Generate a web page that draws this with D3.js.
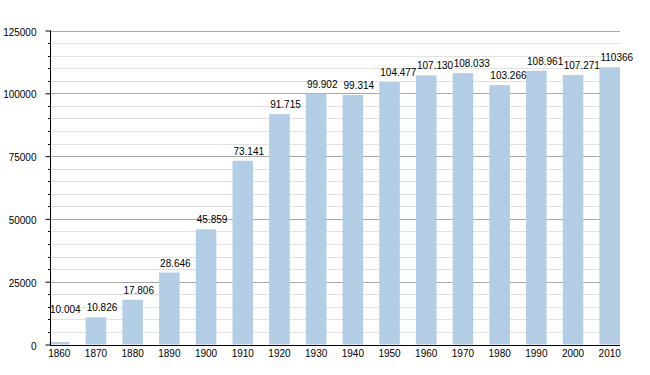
<!DOCTYPE html>
<html>
<head>
<meta charset="utf-8">
<script src="https://cdn.jsdelivr.net/npm/d3@7"></script>
<style>
  body { margin: 0; background: #fff; }
  text { font-family: "Liberation Sans", Arial, sans-serif; font-size: 10px; fill: #000; }
</style>
</head>
<body>
<svg class="chart"></svg>
<script>
// census years and population
const years = ['1860', '1870', '1880', '1890', '1900', '1910', '1920', '1930',
  '1940', '1950', '1960', '1970', '1980', '1990', '2000', '2010'];
// bar heights as drawn (1860 bar is drawn at ~1004 in the source)
const population = [1004, 10826, 17806, 28646, 45859, 73141, 91715, 99902,
  99314, 104477, 107130, 108033, 103266, 108961, 107271, 110366];
const valueLabels = ['10.004', '10.826', '17.806', '28.646', '45.859', '73.141', '91.715', '99.902',
  '99.314', '104.477', '107.130', '108.033', '103.266', '108.961', '107.271', '110366'];
const yTicks = [0, 25000, 50000, 75000, 100000, 125000];

const width = 650, height = 375;
const svg = d3.select('.chart').attr('width', width).attr('height', height);

const x = d3.scaleBand().domain(years).range([49, 620]).paddingInner(0.44).paddingOuter(0);
const y = d3.scaleLinear().domain([0, 125000]).range([344.5, 30.5]);

// gridlines, minor every 5000 then major
const minor = d3.range(0, 125001, 5000).filter(v => v % 25000 !== 0);
svg.append('g').selectAll('line').data(minor).enter().append('line')
  .attr('x1', 50).attr('x2', 620)
  .attr('y1', d => Math.round(y(d)) + 0.5).attr('y2', d => Math.round(y(d)) + 0.5)
  .attr('stroke', '#e2e2e2');
svg.append('g').selectAll('line').data(yTicks.filter(v => v > 0)).enter().append('line')
  .attr('x1', 50).attr('x2', 620)
  .attr('y1', d => Math.round(y(d)) + 0.5).attr('y2', d => Math.round(y(d)) + 0.5)
  .attr('stroke', '#a8a8a8');

// bars
svg.append('g').selectAll('rect').data(years).enter().append('rect')
  .attr('x', d => x(d))
  .attr('width', x.bandwidth())
  .attr('y', (d, i) => y(population[i]))
  .attr('height', (d, i) => y(0) - y(population[i]))
  .attr('fill', '#b3cde4');

// value labels, left aligned on bar
svg.append('g').selectAll('text').data(years).enter().append('text')
  .attr('x', d => x(d) + 1)
  .attr('y', (d, i) => y(+valueLabels[i].replace('.', '')) - 6)
  .text((d, i) => valueLabels[i]);

// y axis
const yAxis = d3.axisLeft(y).tickValues(yTicks).tickSize(5).tickFormat(d3.format('d'));
const ga = svg.append('g').attr('transform', 'translate(50.5,0)').call(yAxis);
ga.select('.domain').attr('stroke', '#000').attr('d', 'M0,' + y(125000) + 'V' + (y(0) + 1));
ga.selectAll('.tick line').attr('stroke', '#000');
ga.selectAll('.tick text').attr('x', -14).attr('dy', '0.45em')
  .style('font-family', '"Liberation Sans", Arial, sans-serif').style('font-size', '10px').attr('fill', '#000');
// minor ticks
svg.append('g').selectAll('line').data(minor).enter().append('line')
  .attr('x1', 48).attr('x2', 50.5)
  .attr('y1', d => Math.round(y(d)) + 0.5).attr('y2', d => Math.round(y(d)) + 0.5)
  .attr('stroke', '#000');

// x axis
const xAxis = d3.axisBottom(x).tickSize(0).tickPadding(4);
const gx = svg.append('g').attr('transform', 'translate(0,' + (Math.round(y(0)) + 0.5) + ')').call(xAxis);
gx.select('.domain').attr('stroke', '#000').attr('d', 'M50,0H620');
gx.selectAll('.tick text')
  .style('font-family', '"Liberation Sans", Arial, sans-serif').style('font-size', '10px').attr('fill', '#000');
</script>
</body>
</html>
